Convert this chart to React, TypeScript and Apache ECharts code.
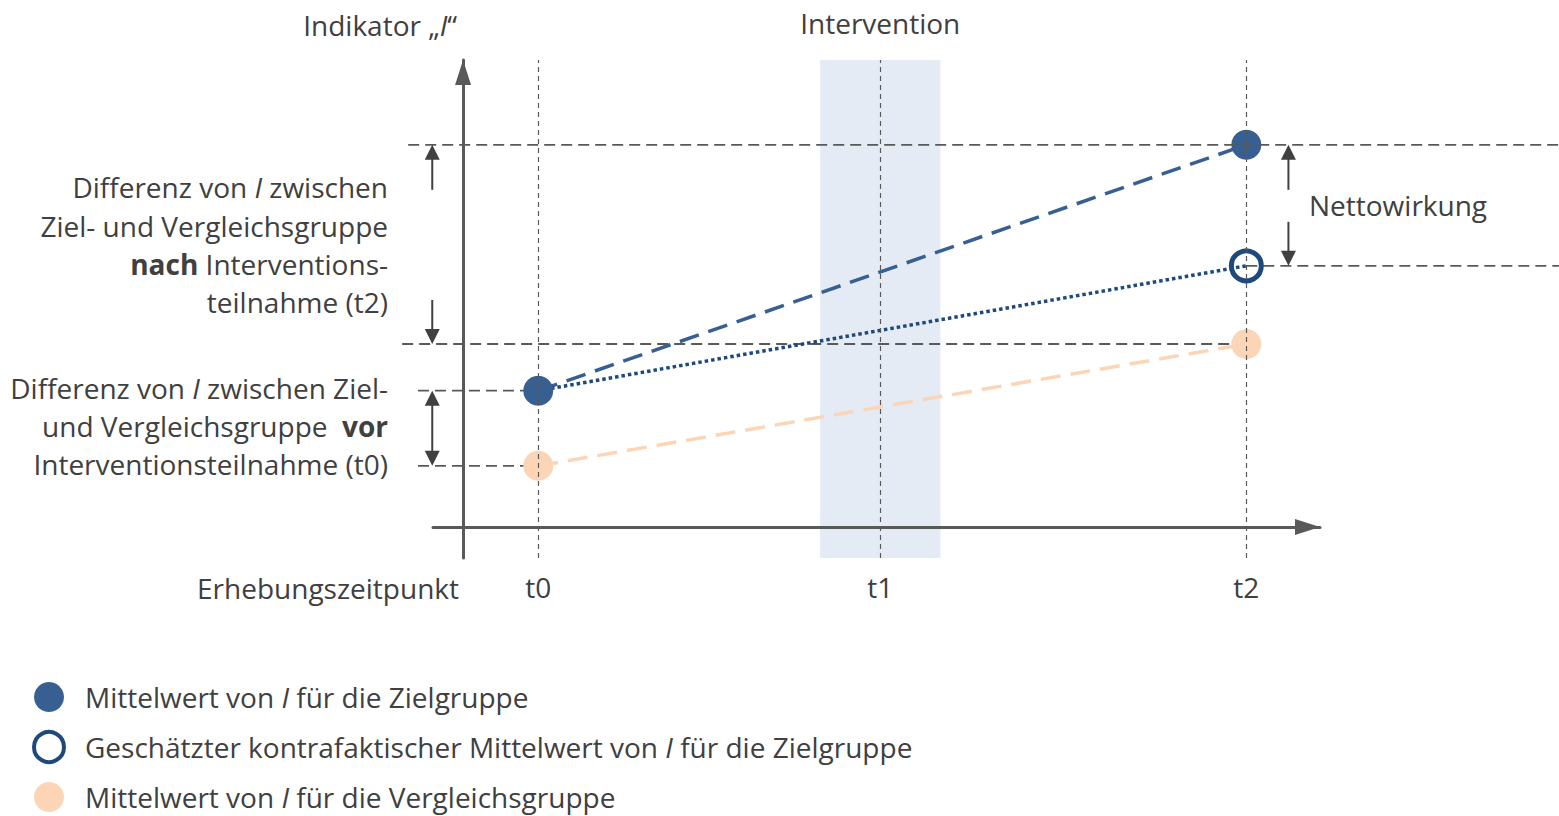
import React, { useEffect, useRef } from 'react';
import * as echarts from 'echarts';

// ---- data ----
const timeLabels = ['t0', 't1', 't2'];
const timePositions = [1.0, 5.55, 10.42];
const interventionRange = [4.75, 6.35];
const zielgruppe = [3.5, 9.82]; // at t0, t2
const kontrafaktisch = [3.5, 6.71]; // at t0, t2
const vergleichsgruppe = [1.57, 4.7]; // at t0, t2
const seriesNames = [
  'Mittelwert von I für die Zielgruppe',
  'Geschätzter kontrafaktischer Mittelwert von I für die Zielgruppe',
  'Mittelwert von I für die Vergleichsgruppe',
];

const FONT = 'Open Sans';
const FS = 28;
const TEXT = '#404040';
const GRID = '#595959';
const C_ZIEL = '#375f92';
const C_KF = '#1f497d';
const C_VGL = '#fbd5b5';

export default function App() {
  const ref = useRef<HTMLDivElement>(null);
  useEffect(() => {
    const chart = echarts.init(ref.current!, null, { renderer: 'svg' });
    const legendRich = {
      p: { width: 16, fontSize: FS, fontFamily: FONT, lineHeight: 30 },
      n: { color: TEXT, fontSize: FS, fontFamily: FONT, lineHeight: 30 },
      i: { color: TEXT, fontSize: FS, fontFamily: FONT, fontStyle: 'italic', lineHeight: 30 },
    };
    const option: any = {
      animation: false,
      grid: { left: 433, top: 60, width: 887, height: 498, containLabel: false },
      xAxis: {
        type: 'value',
        min: -0.4,
        max: 11.4,
        z: 3,
        splitLine: { show: false },
        axisTick: { show: false },
        axisLine: {
          show: true,
          onZero: true,
          symbol: ['none', 'triangle'],
          symbolSize: [16, 25],
          symbolOffset: [0, -12.5],
          lineStyle: { color: GRID, width: 3 },
        },
        axisLabel: {
          show: true,
          customValues: timePositions,
          margin: 14,
          color: TEXT,
          fontFamily: FONT,
          fontSize: FS,
          lineHeight: 30,
          formatter: (v: number) => {
            const idx = timePositions.findIndex((t) => Math.abs(t - v) < 1e-6);
            return idx >= 0 ? timeLabels[idx] : '';
          },
        },
      },
      yAxis: {
        type: 'value',
        min: -0.8,
        max: 12,
        z: 3,
        splitLine: { show: false },
        axisTick: { show: false },
        axisLabel: { show: false },
        axisLine: {
          show: true,
          onZero: true,
          symbol: ['none', 'triangle'],
          symbolSize: [16, 25],
          symbolOffset: [0, -12.5],
          lineStyle: { color: GRID, width: 3 },
        },
      },
      legend: {
        orient: 'vertical',
        left: 32,
        top: 682,
        height: 300,
        padding: 0,
        itemWidth: 30,
        itemHeight: 30,
        itemGap: 18,
        selectedMode: false,
        data: [
          { name: seriesNames[0], icon: 'circle', itemStyle: { color: C_ZIEL, borderWidth: 0 } },
          {
            name: seriesNames[1],
            icon: 'circle',
            itemStyle: { color: '#ffffff', borderColor: C_KF, borderWidth: 4 },
          },
          { name: seriesNames[2], icon: 'circle', itemStyle: { color: C_VGL, borderWidth: 0 } },
        ],
        textStyle: { color: TEXT, fontFamily: FONT, fontSize: FS, lineHeight: 30, rich: legendRich },
        formatter: (name: string) => {
          const [a, b] = name.split(' I ');
          return `{p| }{n|${a} }{i|I}{n| ${b}}`;
        },
      },
      series: [
        {
          name: seriesNames[0],
          type: 'line',
          silent: true,
          data: [
            [timePositions[0], zielgruppe[0]],
            [timePositions[2], zielgruppe[1]],
          ],
          symbol: 'circle',
          symbolSize: 30,
          itemStyle: { color: C_ZIEL, borderWidth: 0 },
          lineStyle: { color: C_ZIEL, width: 3.5, type: [20, 10] },
          markArea: {
            silent: true,
            itemStyle: { color: '#e5ebf4' },
            data: [[{ xAxis: interventionRange[0] }, { xAxis: interventionRange[1] }]],
          },
          markLine: {
            silent: true,
            symbol: ['none', 'none'],
            label: { show: false },
            lineStyle: { color: GRID, width: 1.2, type: [5, 4] },
            data: timePositions.map((t) => ({ xAxis: t })),
          },
        },
        {
          name: seriesNames[1],
          type: 'line',
          silent: true,
          data: [
            { value: [timePositions[0], kontrafaktisch[0]], symbol: 'none' },
            { value: [timePositions[2], kontrafaktisch[1]] },
          ],
          symbol: 'circle',
          symbolSize: 30,
          itemStyle: { color: 'rgba(255,255,255,0)', borderColor: C_KF, borderWidth: 5 },
          lineStyle: { color: C_KF, width: 3.5, type: [3.5, 3] },
        },
        {
          name: seriesNames[2],
          type: 'line',
          silent: true,
          data: [
            [timePositions[0], vergleichsgruppe[0]],
            [timePositions[2], vergleichsgruppe[1]],
          ],
          symbol: 'circle',
          symbolSize: 30,
          itemStyle: { color: C_VGL, borderWidth: 0 },
          lineStyle: { color: C_VGL, width: 3.5, type: [20, 10] },
        },
      ],
    };
    chart.setOption(option);

    const px = (x: number, y: number) => chart.convertToPixel({ gridIndex: 0 }, [x, y]) as number[];
    const g: any[] = [];

    // horizontal reference lines
    const hLines = [
      { y: zielgruppe[1], x1: -0.73, x2: 14.6, z: 6 },
      { y: kontrafaktisch[1], x1: timePositions[2], x2: 14.6, z: 1 },
      { y: vergleichsgruppe[1], x1: -0.81, x2: timePositions[2], z: 1 },
      { y: zielgruppe[0], x1: -0.6, x2: timePositions[0], z: 1 },
      { y: vergleichsgruppe[0], x1: -0.6, x2: timePositions[0], z: 1 },
    ];
    hLines.forEach((l) => {
      const a = px(l.x1, l.y);
      const b = px(l.x2, l.y);
      g.push({
        type: 'line',
        z: l.z,
        silent: true,
        shape: { x1: a[0], y1: a[1], x2: b[0], y2: b[1] },
        style: { stroke: GRID, lineWidth: 1.8, lineDash: [11, 6] },
      });
    });

    const head = (x: number, yTip: number, dir: number) => ({
      type: 'polygon',
      z: 8,
      silent: true,
      shape: { points: [[x, yTip], [x - 7.5, yTip + dir * 15], [x + 7.5, yTip + dir * 15]] },
      style: { fill: TEXT },
    });
    const stem = (x: number, y1: number, y2: number) => ({
      type: 'line',
      z: 8,
      silent: true,
      shape: { x1: x, y1, x2: x, y2 },
      style: { stroke: TEXT, lineWidth: 2 },
    });
    const arrow = (x: number, yTip: number, yTail: number) => {
      const dir = Math.sign(yTail - yTip);
      g.push(stem(x, yTail, yTip + dir * 14), head(x, yTip, dir));
    };
    const dblArrow = (x: number, yA: number, yB: number) => {
      g.push(stem(x, yA + 14, yB - 14), head(x, yA, 1), head(x, yB, -1));
    };

    const xLeft = px(-0.41, 0)[0];
    const yZ2 = px(0, zielgruppe[1])[1];
    const yV2 = px(0, vergleichsgruppe[1])[1];
    const yZ0 = px(0, zielgruppe[0])[1];
    const yV0 = px(0, vergleichsgruppe[0])[1];
    const yK2 = px(0, kontrafaktisch[1])[1];
    arrow(xLeft, yZ2, yZ2 + 45);
    arrow(xLeft, yV2, yV2 - 44);
    dblArrow(xLeft, yZ0, yV0);
    const xNet = px(10.98, 0)[0];
    arrow(xNet, yZ2, yZ2 + 45);
    arrow(xNet, yK2, yK2 - 44);

    const rich = {
      n: { fontFamily: FONT, fontSize: FS, fill: TEXT },
      i: { fontFamily: FONT, fontSize: FS, fill: TEXT, fontStyle: 'italic' },
      b: { fontFamily: FONT, fontSize: FS, fill: TEXT, fontWeight: 'bold' },
    };
    const txt = (x: number, y: number, text: string, align: string) => ({
      type: 'text',
      z: 10,
      silent: true,
      x,
      y,
      style: { text, rich, align, verticalAlign: 'middle', fontFamily: FONT, fontSize: FS, fill: TEXT },
    });

    const blockTop = [
      '{n|Differenz von }{i|I}{n| zwischen}',
      '{n|Ziel- und Vergleichsgruppe}',
      '{b|nach}{n| Interventions-}',
      '{n|teilnahme (t2)}',
    ];
    const blockTopY = [187, 226, 264, 302];
    blockTop.forEach((t, i) => g.push(txt(388, blockTopY[i], t, 'right')));
    const blockBottom = [
      '{n|Differenz von }{i|I}{n| zwischen Ziel-}',
      '{n|und Vergleichsgruppe  }{b|vor}',
      '{n|Interventionsteilnahme (t0)}',
    ];
    const blockBottomY = [388, 426, 464];
    blockBottom.forEach((t, i) => g.push(txt(388, blockBottomY[i], t, 'right')));

    g.push(txt(457, 25, '{n|Indikator „}{i|I}{n|“}', 'right'));
    g.push(txt(px(timePositions[1], 0)[0], 23, '{n|Intervention}', 'center'));
    g.push(txt(459, 588, '{n|Erhebungszeitpunkt}', 'right'));
    g.push(txt(1309, 205, '{n|Nettowirkung}', 'left'));

    chart.setOption({ graphic: { elements: g } });
    return () => chart.dispose();
  }, []);
  return (
    <div
      ref={ref}
      style={{ position: 'absolute', left: 0, top: 0, width: 1559, height: 816, background: '#fff' }}
    />
  );
}
